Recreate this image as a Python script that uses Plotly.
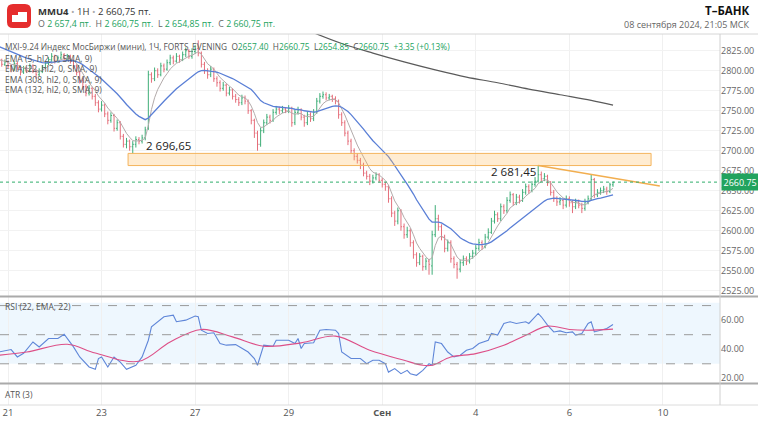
import plotly.graph_objects as go
from plotly.subplots import make_subplots

# ---------------- data (hourly bars, index = bar number) ----------------
opens = [2816,2813,2808,2811,2806,2802,2809,2804,2798,2803,
         2800,2806,2800,2795,2799,2804,2809,2814,2818,2812,
         2816,2820,2815,2818,2812,2806,2798,2788,2780,2772,
         2778,2768,2760,2752,2757,2746,2738,2744,2728,2735,
         2718,2708,2712,2705,2708,2714,2712,2716,2728,2795,
         2790,2800,2795,2806,2802,2810,2816,2812,2818,2814,
         2820,2825,2818,2824,2828,2822,2808,2800,2795,2802,
         2790,2785,2778,2782,2772,2776,2768,2764,2760,2766,
         2762,2750,2738,2722,2708,2725,2735,2742,2738,2748,
         2752,2750,2752,2750,2753,2735,2748,2751,2742,2735,
         2745,2740,2748,2762,2768,2770,2766,2768,2765,2762,
         2745,2735,2722,2712,2700,2693,2688,2682,2672,2668,
         2662,2666,2670,2663,2658,2655,2640,2622,2612,2625,
         2605,2595,2600,2585,2570,2560,2568,2555,2562,2556,
         2595,2615,2605,2592,2578,2585,2565,2558,2552,2560,
         2565,2562,2568,2572,2578,2585,2580,2592,2598,2612,
         2620,2615,2630,2625,2638,2645,2635,2642,2638,2648,
         2655,2650,2658,2662,2670,2665,2668,2660,2648,2640,
         2636,2638,2632,2640,2635,2630,2636,2632,2628,2636,
         2640,2664,2645,2648,2650,2652,2649,2657.4]
highs = [2819,2815,2814,2813,2808,2812,2811,2806,2806,2805,
         2809,2808,2802,2803,2807,2812,2817,2822,2820,2819,
         2824,2822,2821,2820,2814,2808,2800,2791,2783,2782,
         2780,2771,2763,2762,2759,2749,2748,2746,2739,2737,
         2721,2716,2714,2712,2718,2717,2720,2730,2800,2798,
         2804,2803,2810,2809,2814,2820,2819,2822,2820,2824,
         2829,2827,2828,2832,2838,2824,2811,2803,2806,2804,
         2793,2788,2786,2784,2780,2778,2771,2767,2770,2769,
         2764,2752,2740,2725,2729,2739,2746,2745,2752,2756,
         2755,2756,2754,2757,2755,2751,2755,2753,2745,2749,
         2748,2752,2766,2772,2774,2773,2771,2770,2768,2764,
         2748,2738,2725,2715,2703,2697,2691,2685,2675,2671,
         2670,2673,2672,2666,2661,2657,2643,2625,2629,2627,
         2609,2605,2603,2588,2573,2572,2570,2566,2565,2600,
         2632,2620,2608,2595,2589,2588,2568,2561,2564,2569,
         2568,2572,2576,2582,2590,2588,2596,2603,2616,2625,
         2623,2634,2633,2642,2649,2647,2646,2645,2652,2659,
         2658,2662,2667,2681.45,2674,2672,2670,2662,2651,2643,
         2642,2640,2644,2643,2638,2640,2639,2635,2640,2644,
         2670,2666,2652,2654,2656,2655,2660,2660.75]
lows = [2809,2805,2806,2803,2798,2800,2801,2794,2796,2797,
        2798,2797,2790,2793,2797,2802,2807,2811,2809,2810,
        2814,2812,2812,2809,2802,2794,2784,2776,2768,2769,
        2764,2756,2748,2749,2742,2733,2735,2724,2725,2714,
        2704,2703,2700,2696.65,2704,2708,2709,2713,2726,2785,
        2787,2791,2793,2798,2800,2807,2808,2810,2810,2812,
        2817,2815,2815,2821,2818,2804,2796,2790,2792,2786,
        2780,2774,2775,2768,2769,2764,2760,2756,2757,2758,
        2746,2733,2716,2700,2705,2722,2732,2734,2736,2745,
        2746,2747,2747,2747,2730,2732,2745,2738,2730,2732,
        2736,2737,2746,2759,2765,2763,2763,2761,2758,2740,
        2731,2718,2707,2696,2688,2684,2677,2668,2664,2657,
        2659,2663,2660,2654,2650,2635,2617,2606,2608,2600,
        2590,2591,2580,2565,2555,2557,2550,2551,2545,2545,
        2592,2600,2588,2573,2574,2560,2553,2540,2548,2556,
        2557,2559,2565,2569,2575,2576,2578,2589,2596,2609,
        2611,2612,2621,2622,2635,2631,2632,2634,2636,2645,
        2646,2648,2655,2660,2661,2662,2656,2644,2636,2631,
        2632,2627,2629,2630,2622,2627,2628,2622,2625,2633,
        2638,2641,2642,2645,2647,2645,2647,2654.85]
closes = [2813,2808,2811,2806,2802,2809,2804,2798,2803,2800,
          2806,2800,2795,2799,2804,2809,2814,2818,2812,2816,
          2820,2815,2818,2812,2806,2798,2788,2780,2772,2778,
          2768,2760,2752,2757,2746,2738,2744,2728,2735,2718,
          2708,2712,2705,2708,2714,2712,2716,2726,2795,2790,
          2800,2795,2806,2802,2810,2816,2812,2818,2814,2820,
          2825,2818,2824,2828,2822,2808,2800,2795,2802,2790,
          2785,2778,2782,2772,2776,2768,2764,2760,2766,2762,
          2750,2738,2722,2708,2725,2735,2742,2738,2748,2752,
          2750,2752,2750,2753,2735,2748,2751,2742,2735,2745,
          2740,2748,2762,2768,2770,2766,2768,2765,2762,2745,
          2735,2722,2712,2700,2693,2688,2682,2672,2668,2662,
          2666,2670,2663,2658,2655,2640,2622,2612,2625,2605,
          2595,2600,2585,2570,2560,2568,2555,2562,2558,2595,
          2615,2605,2592,2578,2585,2565,2558,2552,2560,2565,
          2562,2568,2572,2578,2585,2580,2592,2598,2612,2620,
          2615,2630,2625,2638,2645,2635,2642,2638,2648,2655,
          2650,2658,2662,2670,2665,2668,2660,2648,2640,2636,
          2638,2632,2640,2635,2630,2636,2632,2628,2636,2640,
          2664,2645,2648,2650,2652,2649,2657.4,2660.75]
bar_index = list(range(len(closes)))

# EMA seeds read at the left edge of the chart
ema5_seed = 2814
ema22_seed = 2832

# long EMA (308)
ema_long_idx = [100, 110, 120, 130, 140, 150, 160, 170, 180, 190, 197]
ema_long_val = [2849, 2834, 2822, 2811, 2801, 2792, 2785, 2777, 2770, 2763, 2757]

# RSI (22) and its EMA signal
rsi_idx = [0,4,6,8,11,13,16,19,21,24,
           26,29,31,32,33,35,37,39,41,44,
           46,48,49,53,56,57,60,63,64,65,
           67,69,71,73,76,80,82,83,85,88,
           89,93,95,96,97,98,101,103,105,108,
           109,110,113,116,118,120,122,124,125,127,
           129,131,132,134,136,138,139,140,142,144,
           146,148,150,152,154,157,158,160,162,164,
           166,169,170,173,174,176,178,180,182,184,
           185,187,189,190,191,193,195,197]
rsi_val = [38.1,39.8,34.7,37.2,45.0,41.6,47.4,47.4,50.3,41.6,
           34.7,27.8,26.2,33.6,34.7,27.8,34.7,31.2,26.2,29.0,
           34.7,46.2,55.4,62.3,63.4,58.9,60.0,62.8,62.3,53.1,
           50.8,51.3,43.9,42.8,43.2,38.1,33.6,29.0,42.8,42.1,
           46.2,46.2,43.9,47.4,40.5,43.9,44.4,53.1,53.6,53.1,
           50.8,38.1,33.6,33.6,30.1,32.4,32.4,30.1,24.3,26.7,
           23.2,25.5,23.2,22.1,25.5,30.1,29.0,45.0,43.9,38.1,
           34.7,35.9,39.3,40.5,43.9,46.2,50.8,49.7,57.7,58.9,
           57.7,58.9,57.7,64.6,62.3,56.6,51.9,52.6,51.3,51.9,
           49.7,50.8,57.7,58.9,51.9,53.1,54.3,57.0]
sig_idx = [0, 9, 22, 31, 45, 55, 65, 75, 85, 97, 108, 119, 130, 136, 139, 145, 153, 162, 169, 176, 183, 189, 197]
sig_val = [35.9, 38.1, 43.4, 37.4, 31.7, 45.0, 53.6, 48.5, 42.1, 44.4, 49.0, 39.3, 32.4, 29.0, 29.0, 34.7, 37.0, 42.8, 49.7, 55.9, 53.6, 53.1, 53.8]

# x-axis day labels (first bar of each day)
day_tick_idx = [3, 33, 63, 93, 123, 153, 183, 213]
day_tick_txt = ["21", "23", "27", "29", "<b>Сен</b>", "4", "6", "10"]

price_ticks = [2525 + 25 * k for k in range(13)]
rsi_ticks = [20, 40, 60]

last_price = 2660.75
zone_low, zone_high = 2681.45, 2696.65
zone_x0, zone_x1 = 41.5, 209.2
trend_x0, trend_y0 = 173, 2681.45
trend_x1, trend_y1 = 212, 2655.9

# ---------------- indicators ----------------
def ema(values, n, seed):
    a = 2.0 / (n + 1)
    out, e = [], seed
    for v in values:
        e = e + a * (v - e)
        out.append(e)
    return out

hl2 = [(h + l) / 2 for h, l in zip(highs, lows)]
ema5 = ema(hl2, 5, ema5_seed)
ema22 = ema(hl2, 22, ema22_seed)

# ---------------- geometry helpers (pixels -> paper) ----------------
W, H = 758, 423
ML, MR, MT, MB = 0, 38, 34, 18
PW, PH = W - ML - MR, H - MT - MB


def fx(px):
    return (px - ML) / PW


def fy(py):
    return (H - MB - py) / PH


FONT = "Open Sans"
GREEN = "#22a35e"

fig = make_subplots(rows=3, cols=1, shared_xaxes=True, vertical_spacing=0)

fig.add_trace(go.Ohlc(x=bar_index, open=opens, high=highs, low=lows, close=closes,
                      increasing_line_color="#3fae78", decreasing_line_color="#e56f7b",
                      line_width=1, tickwidth=0.35, showlegend=False, hoverinfo="skip"),
              row=1, col=1)
fig.add_trace(go.Scatter(x=bar_index, y=ema5, mode="lines",
                         line=dict(color="#b3abab", width=1), showlegend=False, hoverinfo="skip"),
              row=1, col=1)
fig.add_trace(go.Scatter(x=bar_index, y=ema22, mode="lines",
                         line=dict(color="#5a7fd6", width=1.3), showlegend=False, hoverinfo="skip"),
              row=1, col=1)
fig.add_trace(go.Scatter(x=ema_long_idx, y=ema_long_val, mode="lines",
                         line=dict(color="#5a5a5a", width=1.2, shape="spline"),
                         showlegend=False, hoverinfo="skip"),
              row=1, col=1)

fig.add_trace(go.Scatter(x=rsi_idx, y=rsi_val, mode="lines",
                         line=dict(color="#5f86d8", width=1.1), showlegend=False, hoverinfo="skip"),
              row=2, col=1)
fig.add_trace(go.Scatter(x=sig_idx, y=sig_val, mode="lines",
                         line=dict(color="#dd4f87", width=1.1, shape="spline"),
                         showlegend=False, hoverinfo="skip"),
              row=2, col=1)
# ATR panel is empty in the source (values not shown); keep the axis alive
fig.add_trace(go.Scatter(x=[bar_index[0], bar_index[-1]], y=[None, None], mode="lines",
                         showlegend=False, hoverinfo="skip"),
              row=3, col=1)

xr = [0.435, 231.3]
for ax in ("xaxis", "xaxis2", "xaxis3"):
    fig.layout[ax].update(range=xr, tickvals=day_tick_idx, ticktext=day_tick_txt,
                          showgrid=True, gridcolor="#f0f0f0", gridwidth=1,
                          zeroline=False, showline=False, ticks="",
                          rangeslider=dict(visible=False))
fig.layout.xaxis.showticklabels = False
fig.layout.xaxis2.showticklabels = False
fig.layout.xaxis3.update(showticklabels=True, tickfont=dict(family=FONT, size=9.5, color="#555"))

fig.layout.yaxis.update(domain=[fy(296), 1], range=[2518.4, 2845.9], side="right",
                        tickvals=price_ticks, ticktext=[f"{v:.2f}" for v in price_ticks],
                        tickfont=dict(family=FONT, size=9, color="#666"),
                        showgrid=True, gridcolor="#f2f2f2", zeroline=False, ticks="")
fig.layout.yaxis2.update(domain=[fy(383), fy(297)], range=[16.8, 75.9], side="right",
                         tickvals=rsi_ticks, ticktext=[f"{v:.2f}" for v in rsi_ticks],
                         tickfont=dict(family=FONT, size=9, color="#666"),
                         showgrid=False, zeroline=False, ticks="")
fig.layout.yaxis3.update(domain=[0, fy(384)], range=[0, 1], showticklabels=False,
                         showgrid=False, zeroline=False, ticks="")

shapes = []
# RSI band and levels
shapes.append(dict(type="rect", xref="x2 domain", yref="y2", x0=0, x1=1, y0=30, y1=72,
                   fillcolor="rgba(66,165,245,0.09)", line=dict(width=0), layer="below"))
for lvl in (70, 50, 30):
    shapes.append(dict(type="line", xref="x2 domain", yref="y2", x0=0, x1=1, y0=lvl, y1=lvl,
                       line=dict(color="#9a9a9a", width=1, dash="dash")))
# support zone and trend line
shapes.append(dict(type="rect", xref="x", yref="y", x0=zone_x0, x1=zone_x1, y0=zone_low, y1=zone_high,
                   fillcolor="rgba(255,186,90,0.28)", line=dict(color="#f4b45c", width=1)))
shapes.append(dict(type="line", xref="x", yref="y", x0=trend_x0, y0=trend_y0, x1=trend_x1, y1=trend_y1,
                   line=dict(color="#f2ae4f", width=1.5)))
# last price line
shapes.append(dict(type="line", xref="x domain", yref="y", x0=0, x1=1, y0=last_price, y1=last_price,
                   line=dict(color="#2fae6a", width=1, dash="dot")))
# frame lines
shapes.append(dict(type="line", xref="paper", yref="paper", x0=fx(0), x1=fx(W), y0=fy(34), y1=fy(34),
                   line=dict(color="#d6d6d6", width=1)))
shapes.append(dict(type="line", xref="paper", yref="paper", x0=fx(0), x1=fx(W), y0=fy(405), y1=fy(405),
                   line=dict(color="#dcdcdc", width=1)))
for sy in (296.5, 383.5):
    shapes.append(dict(type="line", xref="paper", yref="paper", x0=fx(0), x1=fx(W), y0=fy(sy), y1=fy(sy),
                       line=dict(color="#aaaaaa", width=2)))
shapes.append(dict(type="line", xref="paper", yref="paper", x0=1, x1=1, y0=fy(405), y1=fy(34),
                   line=dict(color="#d0d0d0", width=1)))


# logo
def P(x, y):
    return f"{fx(x):.5f},{fy(y):.5f}"


x0, y0, x1, y1, r = 7, 4, 31, 28, 6
logo_path = (f"M{P(x0 + r, y0)} L{P(x1 - r, y0)} Q{P(x1, y0)} {P(x1, y0 + r)} L{P(x1, y1 - r)} "
             f"Q{P(x1, y1)} {P(x1 - r, y1)} L{P(x0 + r, y1)} Q{P(x0, y1)} {P(x0, y1 - r)} "
             f"L{P(x0, y0 + r)} Q{P(x0, y0)} {P(x0 + r, y0)} Z")
shapes.append(dict(type="path", xref="paper", yref="paper", path=logo_path,
                   fillcolor="#e52d2d", line=dict(width=0)))
inner = f"M{P(12, 22)} L{P(12, 15)} L{P(18, 15)} L{P(18, 12)} L{P(27, 12)} L{P(27, 22)} Z"
shapes.append(dict(type="path", xref="paper", yref="paper", path=inner,
                   fillcolor="#ffffff", line=dict(width=0)))
fig.update_layout(shapes=shapes)

ann = []


def txt(px, py, text, size=9, color="#444", anchor="left", bold=False):
    ann.append(dict(xref="paper", yref="paper", x=fx(px), y=fy(py), text=f"<b>{text}</b>" if bold else text,
                    showarrow=False, xanchor=anchor, yanchor="middle",
                    font=dict(family=FONT, size=size, color=color)))


g = lambda s: f"<span style='color:{GREEN}'>{s}</span>"
txt(36, 11.5, "<b>MMU4</b> <span style='color:#aaa'>•</span> 1H <span style='color:#aaa'>•</span> 2 660,75 пт.",
    size=9.5, color="#333")
txt(36, 24, f"O {g('2 657,4 пт.')}  H {g('2 660,75 пт.')}  L {g('2 654,85 пт.')}  C {g('2 660,75 пт.')}",
    size=8.8, color="#666")
txt(751, 11, "Т–БАНК", size=11.5, color="#111", anchor="right", bold=True)
txt(751, 25, "08 сентября 2024, 21:05 МСК", size=9, color="#666", anchor="right")

txt(3, 47, "MXI-9.24 Индекс МосБиржи (мини), 1Ч, FORTS_EVENING  "
           f"O{g('2657.40')}  H{g('2660.75')}  L{g('2654.85')}  C{g('2660.75')}  {g('+3.35 (+0.13%)')}",
    size=8.3, color="#555")
for k, t in enumerate(["EMA (5, hl2, 0, SMA, 9)", "EMA (22, hl2, 0, SMA, 9)",
                       "EMA (308, hl2, 0, SMA, 9)", "EMA (132, hl2, 0, SMA, 9)"]):
    txt(3, 58.5 + 10.3 * k, t, size=8.5, color="#555")
txt(3, 306, "RSI (22, EMA, 22)", size=8.5, color="#555")
txt(3, 394, "ATR (3)", size=8.5, color="#555")

txt(168, 145, "2 696,65", size=11.5, color="#222", anchor="center")
txt(513, 171, "2 681,45", size=11.5, color="#222", anchor="center")

ann.append(dict(xref="paper", yref="y", x=1, y=last_price, text=f"{last_price:.2f}", showarrow=False,
                xanchor="left", yanchor="middle", xshift=1, bgcolor=GREEN, borderpad=1.5,
                font=dict(family=FONT, size=9, color="#ffffff")))
fig.update_layout(annotations=ann)

fig.update_layout(width=W, height=H, margin=dict(l=ML, r=MR, t=MT, b=MB),
                  paper_bgcolor="white", plot_bgcolor="white", showlegend=False,
                  font=dict(family=FONT), hovermode=False)

fig.write_html("out.html", config={"displayModeBar": False, "staticPlot": True},
               post_script="document.body.style.margin='0';document.body.style.padding='0';"
                           "document.body.style.overflow='hidden';")
